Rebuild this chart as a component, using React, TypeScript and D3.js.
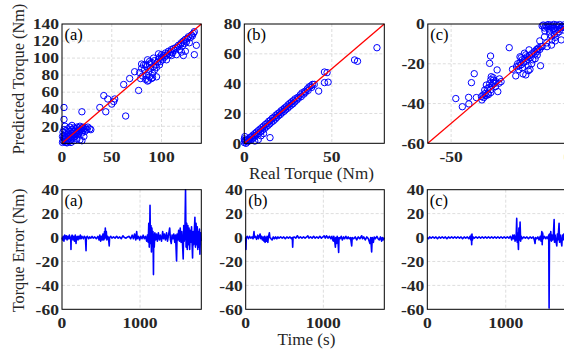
import React from 'react';
import * as d3 from 'd3';

const W = 564;
const H = 349;
const FONT = 'Liberation Serif, Times New Roman, Times, serif';

// ---------- DATA ----------
const scatterA: [number, number][] = [
  [0.5,1],[1,3],[1.5,6],[2,2],[2,9],[3,5],[3,11],[4,1],[4,7],[5,3],[5,10],[6,5],[6,12],[7,2],[7,8],[8,6],[8,14],[9,4],[9,10],
  [10,8],[10,16],[11,6],[11,12],[12,10],[12,18],[13,14],[13,8],[14,11],[14,17],[15,13],[15,19],[16,10],[16,15],[17,18],[17,12],
  [18,14],[18,20],[19,16],[20,12],[20,18],[21,15],[21,19],[22,17],[22,8],[23,14],[24,18],[25,16],[26,19],[28,17],[29,16],
  [1,13],[0.5,8],[2,16],[4,15],[3,20],[6,17],[8,19],[10,21],[5,0.5],[9,1],[12,3],[15,5],[18,4],[20,3],[2,42],[2,28],[20,37],
  [38,42],[42,56],[44,37],[46,52],[50,46],[52,49],[53,52],[64,32],[62,69],[68,76],[77,62],[73,84],
  [78,83],[80,88],[81,79],[82,92],[83,86],[84,75],[85,80],[85,90],[86,73],[87,84],[88,78],[88,93],[89,88],[90,76],[90,95],
  [91,82],[92,90],[93,86],[93,97],[94,92],[95,78],[95,89],[96,95],[97,99],[98,92],[98,101],[99,96],[100,100],[100,104],
  [101,98],[102,103],[103,101],[104,106],[105,103],[106,105],[107,108],[108,104],[109,107],[110,110],[111,106],[112,111],
  [113,109],[114,112],[115,104],[116,113],[117,115],[118,110],[119,116],[120,118],[121,114],[122,120],[123,117],[124,122],
  [125,119],[126,123],[127,125],[128,118],[129,124],[130,127],[131,126],[132,129],[133,131],[133,104],[135,115],[124,108],
  [122,103],[120,107],[110,103],[105,98],[97,105],[92,100],[88,96],[84,92],[86,98],[80,93],[79,76],[91,77],[87,74]
];

const scatterB: [number, number][] = [
  [0,0.5],[0,3],[0.3,4.5],[0.2,2],[0.5,1.5],[1,0],[1.2,2],[1.8,1],[2.3,3],[2.5,1.5],[3,2.5],[3.5,4],[3.8,2],[4.2,4.5],[4.5,3],
  [5,5.5],[5.5,4],[6,6.5],[6.3,5],[7,7.5],[7.2,5.8],[8,8.5],[8.2,6.5],[9,9.5],[9.3,7.8],[10,10.5],[10.4,8.8],[11,11.5],
  [11.5,9.8],[12,12.6],[12.5,11],[13,13.5],[13.6,12],[14,14.8],[14.5,13],[15,15.5],[15.6,14.2],[16,16.8],[16.6,15],
  [17,17.5],[17.7,16.2],[18,18.8],[18.6,17.4],[19,19.8],[19.5,18.4],[20,20.5],[20.6,19.3],[21,21.8],[21.5,20.4],[22,22.6],
  [22.7,21.4],[23,23.7],[23.6,22.5],[24,24.5],[24.8,23.5],[25,25.8],[25.7,24.6],[26,26.8],[26.8,25.6],[27,27.8],[27.8,26.5],
  [28,28.6],[28.8,27.7],[29,29.8],[30,29],[30.5,30.8],[31,30.2],[32,32.5],[32.5,31.3],[33,33.8],[34,33],[34.5,34.8],
  [35,34.2],[36,36.5],[36.5,35.5],[37,37.8],[38,38.5],[38.5,37.5],[39,39.5],[40,39.5],
  [14.7,3.8],[9.5,5],[8,2.5],[6,1.5],[11,6.5],[42.5,35],[45.8,40.7],[47.9,41],[45.8,47.8],[47.3,47.4],[63,55.9],[64.7,55],[75.8,64.1]
];

const scatterC: [number, number][] = [
  [-48,-37.5],[-45.2,-41.6],[-42.5,-36.9],[-42.4,-40.2],[-40.1,-25],[-41.3,-29.5],[-39.2,-37],[-36.8,-38.2],
  [-33.1,-16.1],[-33.5,-19.8],[-30.3,-23.1],[-32.8,-26.5],[-31.8,-28.2],[-29.3,-27.6],[-28.6,-29],[-30,-34],[-34.9,-30.7],
  [-35.6,-33.2],[-34.2,-34.9],[-36.3,-35.7],[-35,-36],[-34,-35.5],[-33,-33],[-32.5,-31],[-32,-29.5],[-31,-31.5],[-33.8,-32],
  [-33,-28],[-32,-27],[-31.5,-30],[-30.8,-29],[-29.5,-29.8],[-33.5,-30],[-34.5,-32.5],[-35.5,-35],[-36,-37],[-37,-36.5],[-33,-34.5],
  [-25.1,-11.9],[-23.7,-22.8],[-22.3,-26.1],
  [-22,-21.5],[-21.5,-20],[-21,-21],[-20.5,-19.5],[-20,-20.5],[-19.5,-18],[-19,-19.5],[-18.5,-17.5],[-18,-18.8],[-17.5,-16.5],
  [-17,-17.8],[-16.5,-16],[-16,-16.8],[-15.5,-15],[-15,-18],[-14.5,-14],[-14,-15],[-13.5,-13],[-13,-13.8],[-12.5,-12],
  [-12,-12.8],[-11.5,-11.4],[-11,-11.4],[-8.9,-11.4],[-6.8,-8],[-5.4,-8.5],[-18,-25.6],[-16.9,-23.5],[-16.2,-22.8],
  [-19.2,-25.1],[-11.7,-21],[-13.1,-15.6],[-20,-17],[-18,-15.5],[-17,-21],[-15.5,-20],[-21,-23],[-19.5,-22],[-14,-17.5],
  [-20.5,-16.5],[-18.6,-14.7],[-16.6,-13],[-13.1,-12.6],
  [-11,-1],[-10.5,-0.5],[-10,-2],[-9.5,-0.8],[-9,-1.5],[-8.5,-0.3],[-8.2,-1.3],[-8,-2.5],[-7.5,-0.5],[-7,-1.8],[-6.5,-1],
  [-6.1,-2.2],[-6,-0.2],[-5.5,-3],[-5,-1.5],[-4.8,-0.5],[-4.6,-4.7],[-4.2,-2.8],[-4,-1],[-3.7,-3.9],[-3.5,-0.3],[-3,-2],
  [-2.8,-8],[-2.5,-1.2],[-2,-3],[-1.8,-0.5],[-1.5,-1.8],[-1,-1],[-0.5,-2.5],[-0.3,-0.4],[-9.8,-3.5],[-7.8,-4],[-5.8,-5.2],
  [-7,-6],[-10,-6.5],[-12,-8.5],[-9,-9.5],[-5.4,-6.7],[-7,-10.6]
];

const errA: [number, number][] = [
  [0,0],[8,-2],[15,1],[25,-3],[35,2],[45,-1],[55,1.5],[65,-2],[75,1],[85,-1],[95,2],[105,-1],[112,0],[115,-10],[118,0],[130,2],
  [140,-2],[150,1],[160,-3],[170,2],[180,-5],[185,0],[195,1],[205,-2],[215,1],[225,-1],[235,2],[245,-1],[255,1],[265,0],
  [275,-1],[285,1],[300,0],[308,-11],[312,0],[325,1],[340,-1],[355,0.5],[370,-0.5],[385,1],[400,-0.5],[420,0.5],[440,-1],
  [460,1],[475,-2],[485,2],[495,-3],[505,1],[515,-2],[525,3],[535,-2],[545,5],[550,-1],[555,8],[560,0],[568,5],[575,-2],
  [585,1],[595,0],[605,-7],[610,0],[625,1],[640,-0.5],[660,0.5],[680,-0.5],[700,1],[720,-0.5],[740,0.5],[760,-1],[780,1.5],
  [800,0],[820,-0.5],[840,0.5],[860,1],[880,-1],[900,2],[915,-1],[930,3],[945,-2],[957,5],[965,-1],[980,1],[995,-2],
  [1010,1],[1025,-1],[1040,2],[1055,-1],[1070,1],[1085,-3],[1095,2],[1105,-4],[1112,12],[1118,-8],[1124,6],[1128,27],
  [1133,-5],[1140,10],[1146,-12],[1152,8],[1160,-6],[1166,5],[1172,-31],[1176,3],[1182,-8],[1190,4],[1198,-2],[1210,3],
  [1222,-3],[1235,4],[1248,-2],[1260,2],[1275,-3],[1290,5],[1300,-1],[1312,3],[1325,-2],[1340,4],[1352,-3],[1365,2],
  [1380,8],[1390,-2],[1400,-5],[1410,2],[1420,-1],[1432,3],[1445,-4],[1455,2],[1468,-19.5],[1475,3],[1485,-2],[1495,6],
  [1505,-3],[1515,8],[1525,-4],[1535,5],[1545,-6],[1553,-18],[1560,10],[1567,-3],[1575,5],[1583,40],[1590,-8],[1598,12],
  [1605,-10],[1613,10],[1620,-6],[1628,8],[1636,-10],[1644,6],[1652,-4],[1660,9],[1667,-5],[1673,-17],[1680,5],[1688,-6],
  [1695,4],[1703,17],[1710,-8],[1718,12],[1725,-6],[1733,9],[1740,-10],[1748,5],[1755,-8],[1762,7],[1767,-14],[1775,4],[1782,-3]
];

const errB: [number, number][] = [
  [0,0],[3,-10],[7,0],[20,1],[35,-1],[50,1],[65,-0.5],[80,0.5],[95,-1],[107,5],[112,0],[125,1],[140,-1.5],[155,2],[165,-1],
  [175,1],[185,3],[195,-1],[205,1],[215,-2],[225,0.5],[235,-3],[245,1],[250,-4],[258,0],[268,-3],[275,1],[285,-4],[292,0],
  [305,4],[312,0],[325,-1],[340,-2],[355,0.5],[370,-1],[385,0.5],[400,-1],[415,0.5],[430,-0.5],[450,0.5],[470,-0.5],
  [490,0.5],[510,-1],[530,0.5],[550,-0.5],[570,0.5],[590,-1],[600,0],[605,-8],[610,0],[625,0.5],[645,-0.5],[665,1.5],
  [685,-0.5],[705,0.5],[725,-0.5],[745,0.5],[765,-0.5],[785,0.5],[800,1.5],[815,-0.5],[835,0.5],[855,-0.5],[875,1],
  [895,-0.5],[915,0.5],[935,-0.5],[955,1],[975,-0.5],[995,0.5],[1010,1.5],[1025,-0.5],[1040,1.5],[1060,-0.5],[1080,1],
  [1095,-1],[1110,1],[1120,-2],[1129,-3],[1135,1],[1145,-2],[1155,-8],[1160,0],[1170,-5],[1178,1],[1188,-2],[1197,-12.5],
  [1202,0],[1215,-1],[1230,1],[1245,-2],[1260,0.5],[1275,-1],[1290,1],[1305,-1],[1320,0.5],[1335,-1],[1350,0],[1365,-7],
  [1372,0],[1390,-1],[1410,0.5],[1430,-2],[1450,0.5],[1470,-1],[1494,1.5],[1505,-1],[1520,0.5],[1540,-2],[1560,0.5],
  [1580,-1],[1600,-5],[1610,0],[1622,-12],[1630,0],[1644,-4],[1655,0.5],[1670,-1],[1690,1],[1705,-1],[1720,-2],[1735,0.5],
  [1750,-3],[1760,0],[1770,-2],[1785,0]
];

const errC: [number, number][] = [
  [0,0],[15,-1],[30,0.5],[50,-0.5],[70,0.5],[90,-0.5],[110,0.5],[130,-1],[150,0.5],[170,-0.5],[190,0.5],[210,-0.5],
  [230,0.5],[250,-1],[270,0.5],[290,-0.5],[310,0.5],[330,-0.5],[350,0.5],[370,-0.5],[390,0.5],[410,-0.5],[430,0.5],
  [450,-1],[470,0.5],[490,-0.5],[510,0.5],[530,-1],[545,1],[555,-2],[560,2],[566,-6],[570,3],[575,-2],[585,0.5],[600,-0.5],
  [620,0.5],[640,-0.5],[660,0.5],[680,-0.5],[700,0.5],[720,-0.5],[740,0.5],[760,-0.5],[780,0.5],[800,-0.5],[820,0.5],
  [840,-0.5],[860,0.5],[880,-0.5],[900,0.5],[920,-0.5],[940,0.5],[960,-0.5],[980,0.5],[1000,-0.5],[1020,0.5],[1040,-0.5],
  [1060,1],[1077,-2],[1090,2],[1100,-1],[1110,2],[1119,-3],[1125,1],[1132,-2],[1140,16],[1146,-4],[1152,4],[1162,-10],
  [1168,8],[1176,-2],[1183,13],[1190,-3],[1198,1],[1210,-1],[1230,0.5],[1250,-0.5],[1270,0.5],[1290,-1],[1310,0.5],
  [1330,-0.5],[1350,0.5],[1365,-2],[1374,-5],[1380,0],[1395,-1],[1410,0.5],[1425,-2],[1440,1],[1450,-3],[1460,5],
  [1465,-6],[1470,4],[1480,-1],[1495,1],[1510,-1],[1525,0.5],[1540,-1],[1548,2],[1553,-59],[1558,3],[1565,-2],[1574,5],
  [1582,-3],[1590,2],[1600,-2],[1608,3],[1617,15],[1622,-4],[1630,2],[1640,-3],[1651,-7],[1658,3],[1665,-2],[1672,4],
  [1680,12],[1686,-4],[1695,2],[1705,-3],[1715,-7],[1722,2],[1730,-2],[1740,3],[1750,-2],[1760,1],[1775,-1],[1785,0]
];

const domainA: [number, number] = [0, 140];
const domainB: [number, number] = [0, 80];
const domainC: [number, number] = [-60, 0];
const timeDomain: [number, number] = [0, 1785];
const errDomain: [number, number] = [-60, 40];

const xTicksA = [0, 50, 100];
const yTicksA = [20, 40, 60, 80, 100, 120, 140];
const xTicksB = [0, 50];
const yTicksB = [0, 20, 40, 60, 80];
const xTicksC = [-50, 0];
const yTicksC = [-60, -40, -20, 0];
const xTicksTime = [0, 1000];
const yTicksErr = [-60, -40, -20, 0, 20, 40];
const panelLabels = ['(a)', '(b)', '(c)'];

// ---------- LAYOUT ----------
const topRow = { y0: 24, y1: 143.3 };
const botRow = { y0: 189.7, y1: 309.3 };
const topX: [number, number][] = [[62, 201.3], [244.3, 384.3], [427.8, 567.8]];
const botX: [number, number][] = [[62, 201.3], [245.7, 384.3], [427.3, 567.3]];

const TICK_FS = 15;
const TICK_SX = 1.17;
const LABEL_FS = 16;
const LABEL_SX = 1.07;
const TEXT = '#262626';

function SText({ x, y, sx, anchor, fs, bold, dy, fill, children }: {
  x: number; y: number; sx: number; anchor: 'start' | 'middle' | 'end'; fs: number; bold?: boolean; dy?: string; fill: string; children: React.ReactNode;
}) {
  return (
    <g transform={`translate(${x},${y}) scale(${sx},1)`}>
      <text x={0} y={0} dy={dy} textAnchor={anchor} fontFamily={FONT} fontWeight={bold ? 'bold' : 'normal'} fontSize={fs} fill={fill}>{children}</text>
    </g>
  );
}

type PanelProps = {
  x0: number; x1: number; y0: number; y1: number;
  xd: [number, number]; yd: [number, number];
  xt: number[]; yt: number[];
  label: string;
  children: (x: d3.ScaleLinear<number, number>, y: d3.ScaleLinear<number, number>) => React.ReactNode;
};

function Panel({ x0, x1, y0, y1, xd, yd, xt, yt, label, children }: PanelProps) {
  const x = d3.scaleLinear().domain(xd).range([x0, x1]);
  const y = d3.scaleLinear().domain(yd).range([y1, y0]);
  const gx = xt.filter(v => v > xd[0] && v < xd[1]);
  const gy = yt.filter(v => v > yd[0] && v < yd[1]);
  return (
    <g>
      <rect x={x0} y={y0} width={x1 - x0} height={y1 - y0} fill="#fff" />
      {gx.map(v => (
        <line key={'gx' + v} x1={x(v)} x2={x(v)} y1={y0} y2={y1} stroke="#d4d4d4" strokeWidth={0.8} strokeDasharray="3,2" />
      ))}
      {gy.map(v => (
        <line key={'gy' + v} x1={x0} x2={x1} y1={y(v)} y2={y(v)} stroke="#d4d4d4" strokeWidth={0.8} strokeDasharray="3,2" />
      ))}
      {children(x, y)}
      <rect x={x0} y={y0} width={x1 - x0} height={y1 - y0} fill="none" stroke="#000" strokeWidth={1} />
      {xt.map(v => (
        <SText key={'tx' + v} x={x(v)} y={y1 + 18.3} sx={TICK_SX} anchor="middle" fs={TICK_FS} bold fill={TEXT}>{v}</SText>
      ))}
      {yt.map(v => (
        <SText key={'ty' + v} x={x0 - 3} y={y(v)} dy="0.35em" sx={TICK_SX} anchor="end" fs={TICK_FS} bold fill={TEXT}>{v}</SText>
      ))}
      <text x={x0 + 2.5} y={y0 + 16} fontFamily={FONT} fontSize={16.5} fill="#000">{label}</text>
    </g>
  );
}

function scatterContent(pts: [number, number][], d: [number, number]) {
  return (x: d3.ScaleLinear<number, number>, y: d3.ScaleLinear<number, number>) => {
    const line = d3.line<[number, number]>().x(p => x(p[0])).y(p => y(p[1]));
    return (
      <g>
        {pts.map((p, i) => (
          <circle key={i} cx={x(p[0])} cy={y(p[1])} r={3.2} fill="none" stroke="#0000ff" strokeWidth={1} />
        ))}
        <path d={line([[d[0], d[0]], [d[1], d[1]]]) || ''} stroke="#ff0000" strokeWidth={1.3} fill="none" />
      </g>
    );
  };
}

function lineContent(pts: [number, number][]) {
  return (x: d3.ScaleLinear<number, number>, y: d3.ScaleLinear<number, number>) => {
    const line = d3.line<[number, number]>().x(p => x(p[0])).y(p => y(p[1]));
    return <path d={line(pts) || ''} stroke="#0000ff" strokeWidth={1.6} fill="none" strokeLinejoin="round" />;
  };
}

export default function App() {
  const scat = [
    { pts: scatterA, d: domainA, xt: xTicksA, yt: yTicksA },
    { pts: scatterB, d: domainB, xt: xTicksB, yt: yTicksB },
    { pts: scatterC, d: domainC, xt: xTicksC, yt: yTicksC },
  ];
  const errs = [errA, errB, errC];
  return (
    <svg width={W} height={H} style={{ position: 'absolute', left: 0, top: 0, display: 'block', background: '#fff' }}>
      <rect x={0} y={0} width={W} height={H} fill="#fff" />
      {scat.map((s, i) => (
        <Panel key={'s' + i} x0={topX[i][0]} x1={topX[i][1]} y0={topRow.y0} y1={topRow.y1}
          xd={s.d} yd={s.d} xt={s.xt} yt={s.yt} label={panelLabels[i]}>
          {scatterContent(s.pts, s.d)}
        </Panel>
      ))}
      {errs.map((e, i) => (
        <Panel key={'e' + i} x0={botX[i][0]} x1={botX[i][1]} y0={botRow.y0} y1={botRow.y1}
          xd={timeDomain} yd={errDomain} xt={xTicksTime} yt={yTicksErr} label={panelLabels[i]}>
          {lineContent(e)}
        </Panel>
      ))}
      <text transform="translate(24,79) rotate(-90)" textAnchor="middle" fontFamily={FONT} fontSize={16.3} fill={TEXT}>Predicted Torque (Nm)</text>
      <text transform="translate(24,250.5) rotate(-90)" textAnchor="middle" fontFamily={FONT} fontSize={16.3} fill={TEXT}>Torque Error (Nm)</text>
      <SText x={311.5} y={179.2} sx={LABEL_SX} anchor="middle" fs={LABEL_FS} fill={TEXT}>Real Torque (Nm)</SText>
      <SText x={306.5} y={345.2} sx={LABEL_SX} anchor="middle" fs={LABEL_FS} fill={TEXT}>Time (s)</SText>
    </svg>
  );
}
